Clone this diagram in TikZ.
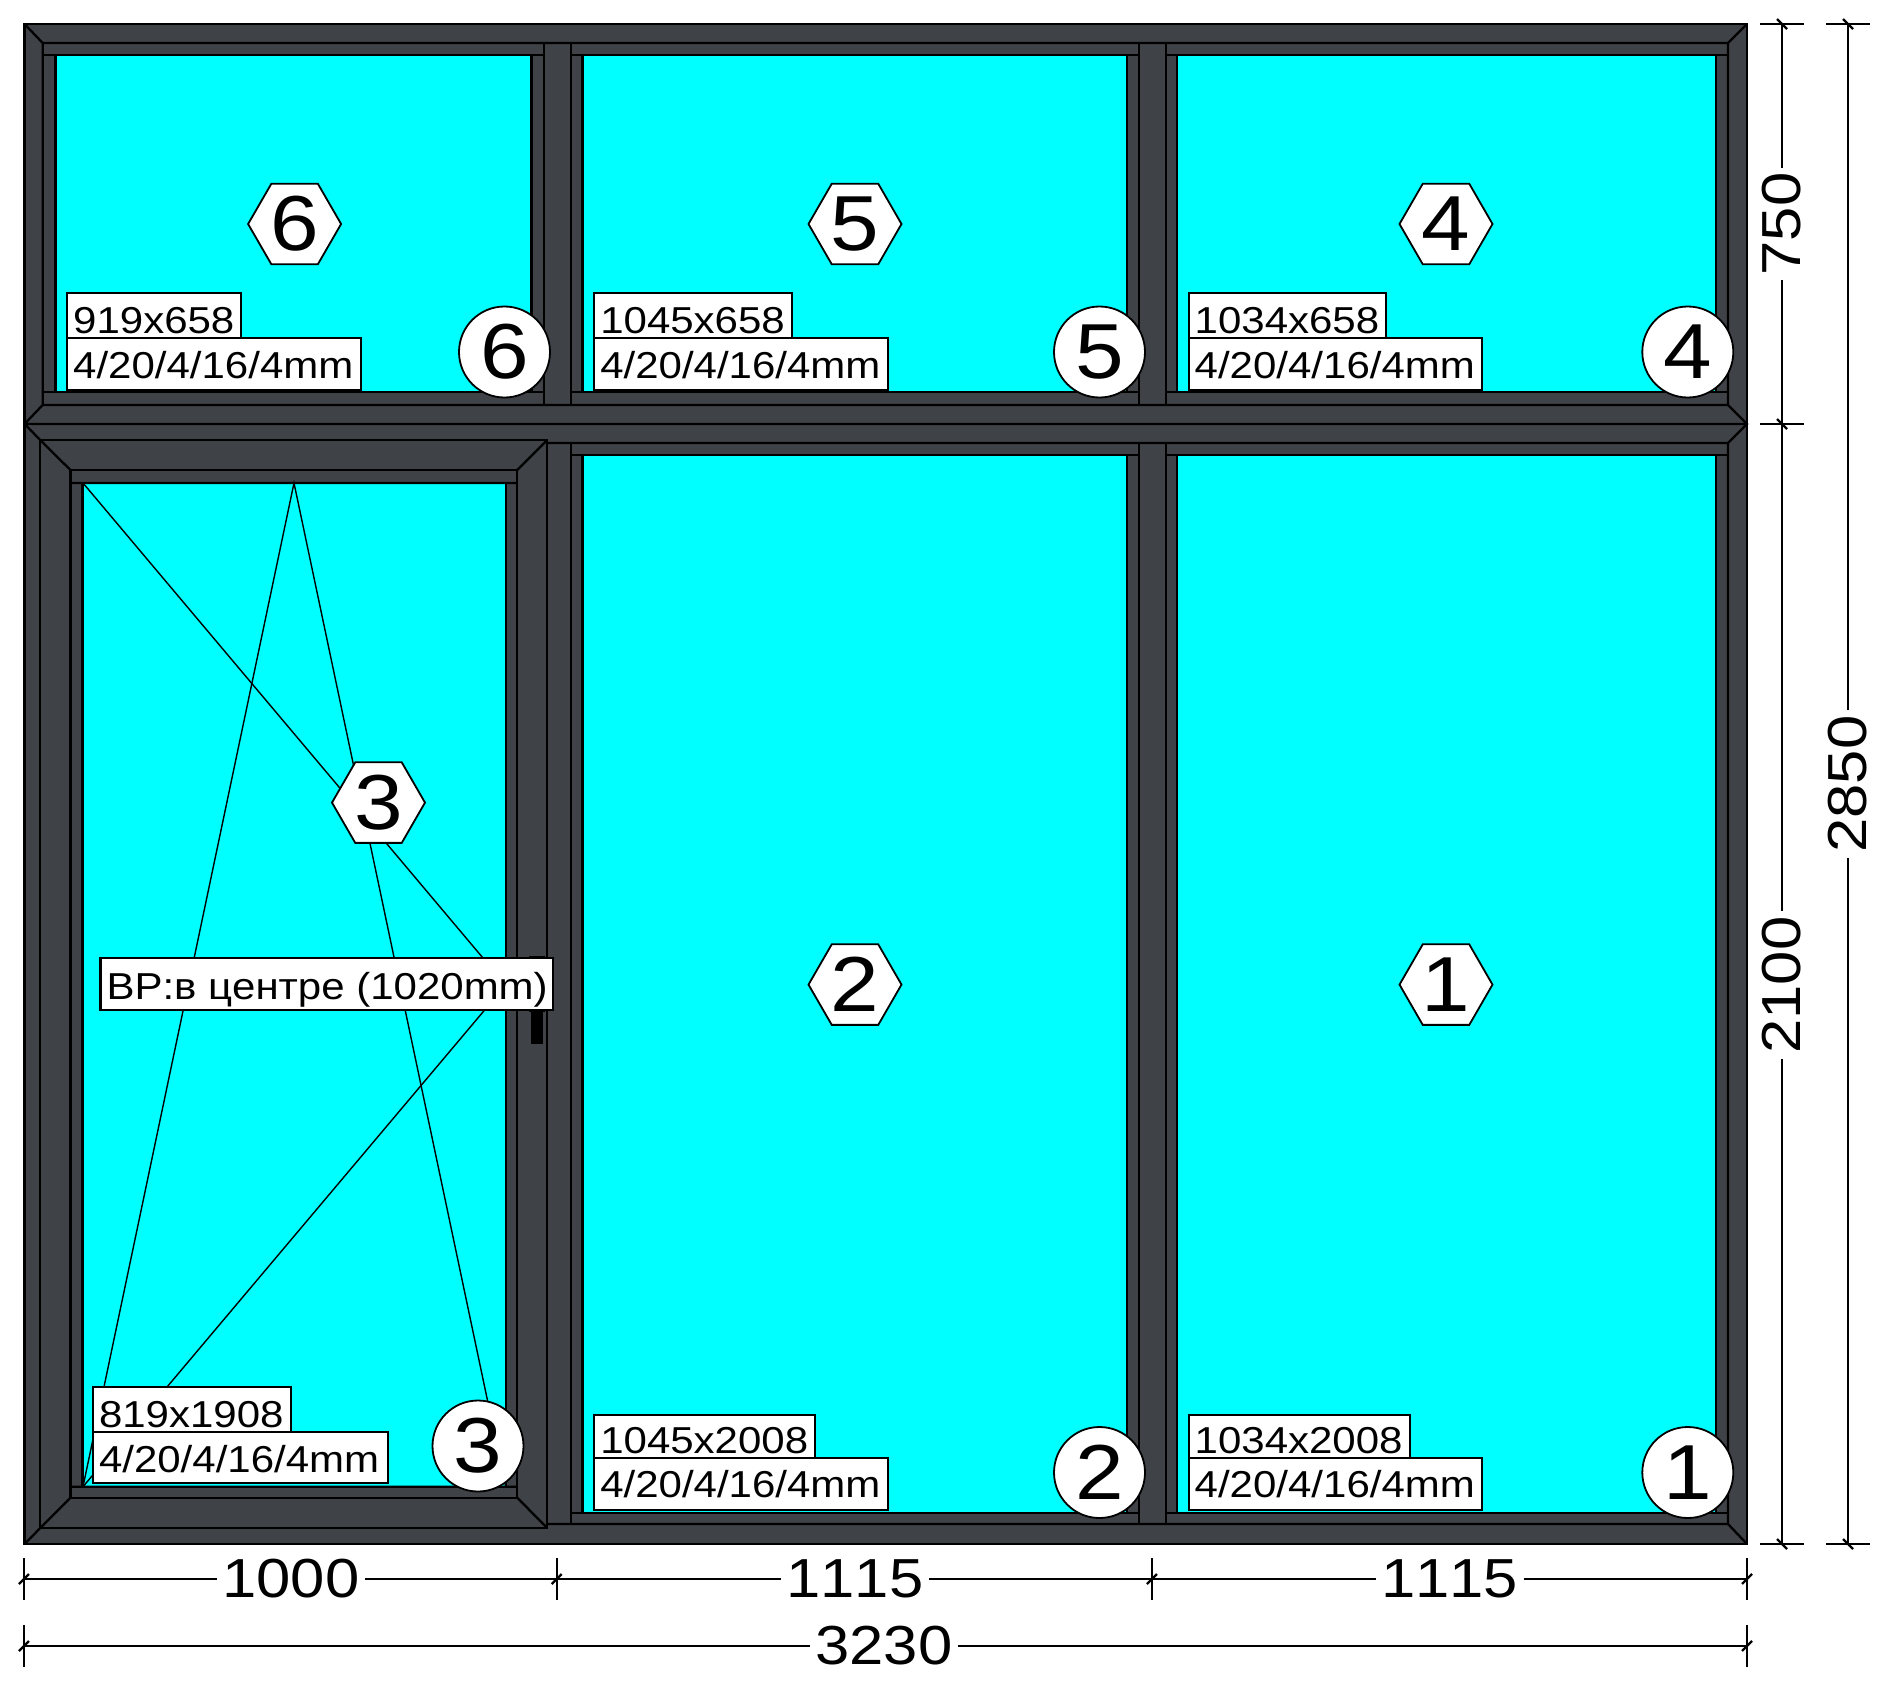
\documentclass[tikz,border=0pt]{standalone}
\usepackage{fontspec}
\usetikzlibrary{shapes.geometric,calc}
\newfontfamily\ff[FakeStretch=1.12,Kerning=Off]{Liberation Sans}
\definecolor{framecol}{HTML}{3F4247}
\definecolor{glasscol}{HTML}{00FFFF}
\tikzset{
  profile/.style={line width=2.3pt,black},
  thinline/.style={line width=1.4pt,black},
  dimline/.style={line width=2.2pt,black},
  glass/.style={fill=glasscol,draw=black,line width=2.3pt},
  hexmark/.style={regular polygon,regular polygon sides=6,regular polygon rotate=0,minimum size=93pt,inner sep=0pt,outer sep=0pt,fill=white,draw=black,line width=1.8pt,font=\ff\fontsize{78}{78}\selectfont},
  circmark/.style={circle,minimum size=91pt,inner sep=0pt,outer sep=0pt,fill=white,draw=black,line width=1.8pt,font=\ff\fontsize{78}{78}\selectfont},
  dimtext/.style={inner sep=0pt,outer sep=0pt,minimum width=148pt,minimum height=40pt,font=\ff\fontsize{55}{55}\selectfont},
  dimtextv/.style={dimtext,rotate=90}
}
% name, x, ytop, width, height above baseline, below baseline, text
\newcommand{\lab}[7]{\node[anchor=north west,fill=white,draw=black,line width=2.2pt,inner xsep=0pt,inner ysep=0pt,outer sep=0pt,text height=#5pt,text depth=#6pt,font=\ff\fontsize{37.5}{37.5}\selectfont] (#1) at (#2,#3) {\makebox[#4pt][l]{\hspace{6pt}#7}};}
% horizontal dimension end: name, x, y
\newcommand{\hend}[3]{\coordinate (#1) at (#2,#3);
  \draw[dimline] ($(#1)+(0,-21)$) -- ($(#1)+(0,21)$);
  \draw[dimline] ($(#1)+(-5,5)$) -- ($(#1)+(5,-5)$);}
\newcommand{\vend}[3]{\coordinate (#1) at (#2,#3);
  \draw[dimline] ($(#1)+(-22,0)$) -- ($(#1)+(22,0)$);
  \draw[dimline] ($(#1)+(-5,-5)$) -- ($(#1)+(5,5)$);}
\begin{document}
\begin{tikzpicture}[x=1pt,y=-1pt]
\useasboundingbox (0,0) rectangle (1890,1686);
% outer frame
\draw[profile,fill=framecol] (24.5,24) rectangle (1747,1544);
% glass
\draw[glass] (55.4,55) rectangle (531.4,392);
\draw[glass] (582.4,55) rectangle (1126.7,392);
\draw[glass] (1177.3,55) rectangle (1715.7,392);
\draw[glass] (582.4,455) rectangle (1126.7,1512.7);
\draw[glass] (1177.3,455) rectangle (1715.7,1512.7);
\draw[glass] (82.6,483) rectangle (505.7,1486.7);
% frame lines
\draw[profile]
  (24.5,24) -- (42.7,43) (1747,24) -- (1728,43)
  (42.7,43) -- (1728,43)
  (42.7,43) -- (42.7,405) (1728,43) -- (1728,405) (1728,443) -- (1728,1524)
  (42.7,405) -- (1728,405)
  (24.5,424) -- (1747,424)
  (547.2,443) -- (1728,443)
  (42.7,405) -- (24.5,424) -- (40.3,440)
  (1728,405) -- (1747,424) -- (1728,443)
  (547.2,1524) -- (1728,1524)
  (40.3,1528) -- (24.5,1544)
  (1728,1524) -- (1747,1544);
% mullions
\draw[profile]
  (544,43) -- (544,405) (571,43) -- (571,405) (571,443) -- (571,1524)
  (1138.7,43) -- (1138.7,405) (1165.7,43) -- (1165.7,405)
  (1138.7,443) -- (1138.7,1524) (1165.7,443) -- (1165.7,1524);
% beads
\draw[profile]
  (42.7,55) -- (544,55) (42.7,392) -- (544,392)
  (571,55) -- (1138.7,55) (571,392) -- (1138.7,392)
  (1165.7,55) -- (1728,55) (1165.7,392) -- (1728,392)
  (571,455) -- (1138.7,455) (571,1512.7) -- (1138.7,1512.7)
  (1165.7,455) -- (1728,455) (1165.7,1512.7) -- (1728,1512.7);
% sash
\draw[profile] (40.3,440) rectangle (547.2,1528);
\draw[profile] (70.4,470) rectangle (517.2,1497.7);
\draw[profile]
  (70.4,483) -- (517.2,483) (70.4,1486.7) -- (517.2,1486.7)
  (40.3,440) -- (70.4,470) (547.2,440) -- (517.2,470)
  (40.3,1528) -- (70.4,1497.7) (547.2,1528) -- (517.2,1497.7);
% opening lines
\draw[thinline] (83,483) -- (505.7,985) -- (83,1486.7);
\draw[thinline] (83,1486.7) -- (294,483) -- (505.7,1486.7);
% handle
\fill[black] (529,956) rectangle (545,1012);
\fill[black] (530.7,1010) rectangle (542.7,1044);
% hexagons
\node[hexmark] (h6) at (294.6,224) {6};
\node[hexmark] (h5) at (855,224) {5};
\node[hexmark] (h4) at (1446,224) {4};
\node[hexmark] (h3) at (378.5,802.6) {3};
\node[hexmark] (h2) at (855,984.6) {2};
\node[hexmark] (h1) at (1446,984.6) {1};
% labels
\lab{a6}{67.2}{292.7}{174}{40.3}{4.7}{919x658}
\lab{b6}{67.2}{337.7}{294}{40.3}{12}{4/20/4/16/4mm}
\lab{a5}{594.3}{292.7}{198}{40.3}{4.7}{1045x658}
\lab{b5}{594.3}{337.7}{294}{40.3}{12}{4/20/4/16/4mm}
\lab{a4}{1188.7}{292.7}{197}{40.3}{4.7}{1034x658}
\lab{b4}{1188.7}{337.7}{293}{40.3}{12}{4/20/4/16/4mm}
\lab{a3}{93}{1386.7}{197.6}{40.3}{4.7}{819x1908}
\lab{b3}{93}{1431.7}{295}{40.3}{11.3}{4/20/4/16/4mm}
\lab{a2}{594.3}{1414.6}{221}{38.6}{4.7}{1045x2008}
\lab{b2}{594.3}{1457.9}{294}{40}{12}{4/20/4/16/4mm}
\lab{a1}{1188.7}{1414.6}{221}{38.6}{4.7}{1034x2008}
\lab{b1}{1188.7}{1457.9}{293}{40}{12}{4/20/4/16/4mm}
\lab{vr}{100.5}{957.7}{452.2}{41.5}{10.8}{ВР:в центре (1020mm)}
% circles
\node[circmark] (c6) at (504.5,352) {6};
\node[circmark] (c5) at (1099.5,352) {5};
\node[circmark] (c4) at (1687.8,352) {4};
\node[circmark] (c3) at (478,1446) {3};
\node[circmark] (c2) at (1099.5,1472.5) {2};
\node[circmark] (c1) at (1687.8,1472.5) {1};
% dimensions, bottom rows
\hend{x0}{24}{1579}
\hend{x1}{556.7}{1579}
\hend{x2}{1152}{1579}
\hend{x3}{1747}{1579}
\hend{t0}{24}{1646}
\hend{t1}{1747}{1646}
\node[dimtext] (d1000) at (291,1579) {\raisebox{-3.4pt}{1000}};
\node[dimtext] (d1115a) at (855,1579) {\raisebox{-3.4pt}{1115}};
\node[dimtext] (d1115b) at (1449.6,1579) {\raisebox{-3.4pt}{1115}};
\node[dimtext] (d3230) at (884,1646) {\raisebox{-4.6pt}{3230}};
\draw[dimline] (x0) -- (d1000) -- (x1) -- (d1115a) -- (x2) -- (d1115b) -- (x3);
\draw[dimline] (t0) -- (d3230) -- (t1);
% dimensions, right columns
\vend{y0}{1782}{24}
\vend{y1}{1782}{424}
\vend{y2}{1782}{1544}
\vend{z0}{1848}{24}
\vend{z1}{1848}{1544}
\node[dimtextv,minimum width=112pt] (d750) at (1782,224) {\raisebox{-2.4pt}{750}};
\node[dimtextv] (d2100) at (1782,985) {\raisebox{-2.4pt}{2100}};
\node[dimtextv] (d2850) at (1848,784) {\raisebox{-3.2pt}{2850}};
\draw[dimline] (y0) -- (d750) -- (y1) -- (d2100) -- (y2);
\draw[dimline] (z0) -- (d2850) -- (z1);
\end{tikzpicture}
\end{document}
